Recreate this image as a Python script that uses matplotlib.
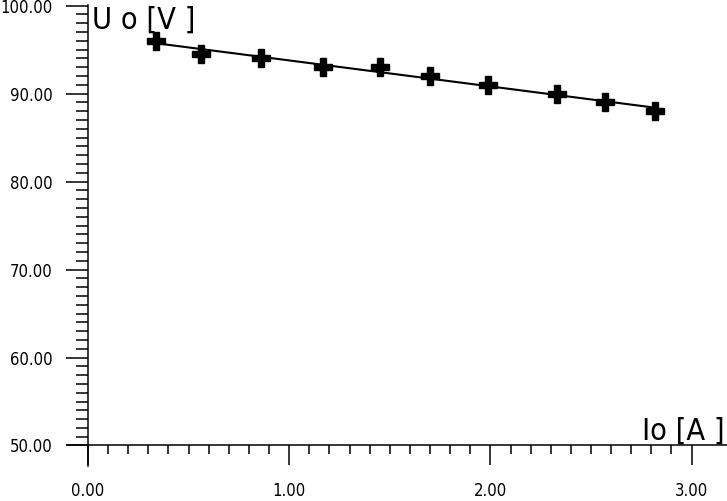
import numpy as np
import matplotlib
matplotlib.use("Agg")
import matplotlib.pyplot as plt
from matplotlib import font_manager
from matplotlib.ticker import MultipleLocator, FixedLocator, FormatStrFormatter

# 测量数据 Io [A], Uo [V]
io = [0.34, 0.56, 0.86, 1.17, 1.45, 1.70, 1.99, 2.33, 2.57, 2.82]
uo = [96.0, 94.5, 94.0, 93.0, 93.0, 92.0, 91.0, 90.0, 89.0, 88.0]

x_label = "Io [A ]"
y_label = "U o [V ]"

# 选一个窄字体
names = {f.name for f in font_manager.fontManager.ttflist}
font = "Liberation Sans Narrow" if "Liberation Sans Narrow" in names else "DejaVu Sans"

W, H = 727, 501
fig = plt.figure(figsize=(W / 100, H / 100), dpi=100)
# 坐标区域按像素摆放: 轴线向左/向下各伸出一段
ax = fig.add_axes([67 / W, (H - 466) / H, 660 / W, 461 / H])
ax.set_xlim(-0.1044, 3.176)
ax.set_ylim(47.67, 100.06)

for s in ["top", "right"]:
    ax.spines[s].set_visible(False)
ax.spines["left"].set_position(("data", 0))
ax.spines["bottom"].set_position(("data", 50))
for s in ["left", "bottom"]:
    ax.spines[s].set_linewidth(1.1)

ax.xaxis.set_major_locator(FixedLocator([0, 1, 2, 3]))
ax.xaxis.set_minor_locator(FixedLocator(np.arange(0, 30.5) / 10))
ax.yaxis.set_major_locator(FixedLocator([50, 60, 70, 80, 90, 100]))
ax.yaxis.set_minor_locator(FixedLocator(np.arange(50, 100.5)))
ax.xaxis.set_major_formatter(FormatStrFormatter("%.2f"))
ax.yaxis.set_major_formatter(FormatStrFormatter("%.2f"))

ax.tick_params(axis="x", which="major", direction="out", length=14.4, width=1.1, pad=12)
ax.tick_params(axis="x", which="minor", direction="out", length=6.5, width=1.1)
ax.tick_params(axis="y", which="major", direction="out", length=15.5, width=1.1, pad=10)
ax.tick_params(axis="y", which="minor", direction="out", length=8.5, width=1.1)

for lab in ax.get_xticklabels() + ax.get_yticklabels():
    lab.set_fontfamily(font)
    lab.set_fontstretch("condensed")
    lab.set_fontsize(12)

# 数据点和拟合直线
k, b = np.polyfit(io, uo, 1)
xs = np.array([io[0], io[-1]])
ax.plot(xs, k * xs + b, color="black", linewidth=1.5)
ax.plot(io, uo, linestyle="none", marker="P", markersize=13, color="black")

ax.text(0.02, 100.0, y_label, ha="left", va="top", fontsize=22,
        family=font, fontstretch="condensed")
ax.text(3.166, 50.0, x_label, ha="right", va="bottom", fontsize=22,
        family=font, fontstretch="condensed")

fig.savefig("out.png", dpi=100)
